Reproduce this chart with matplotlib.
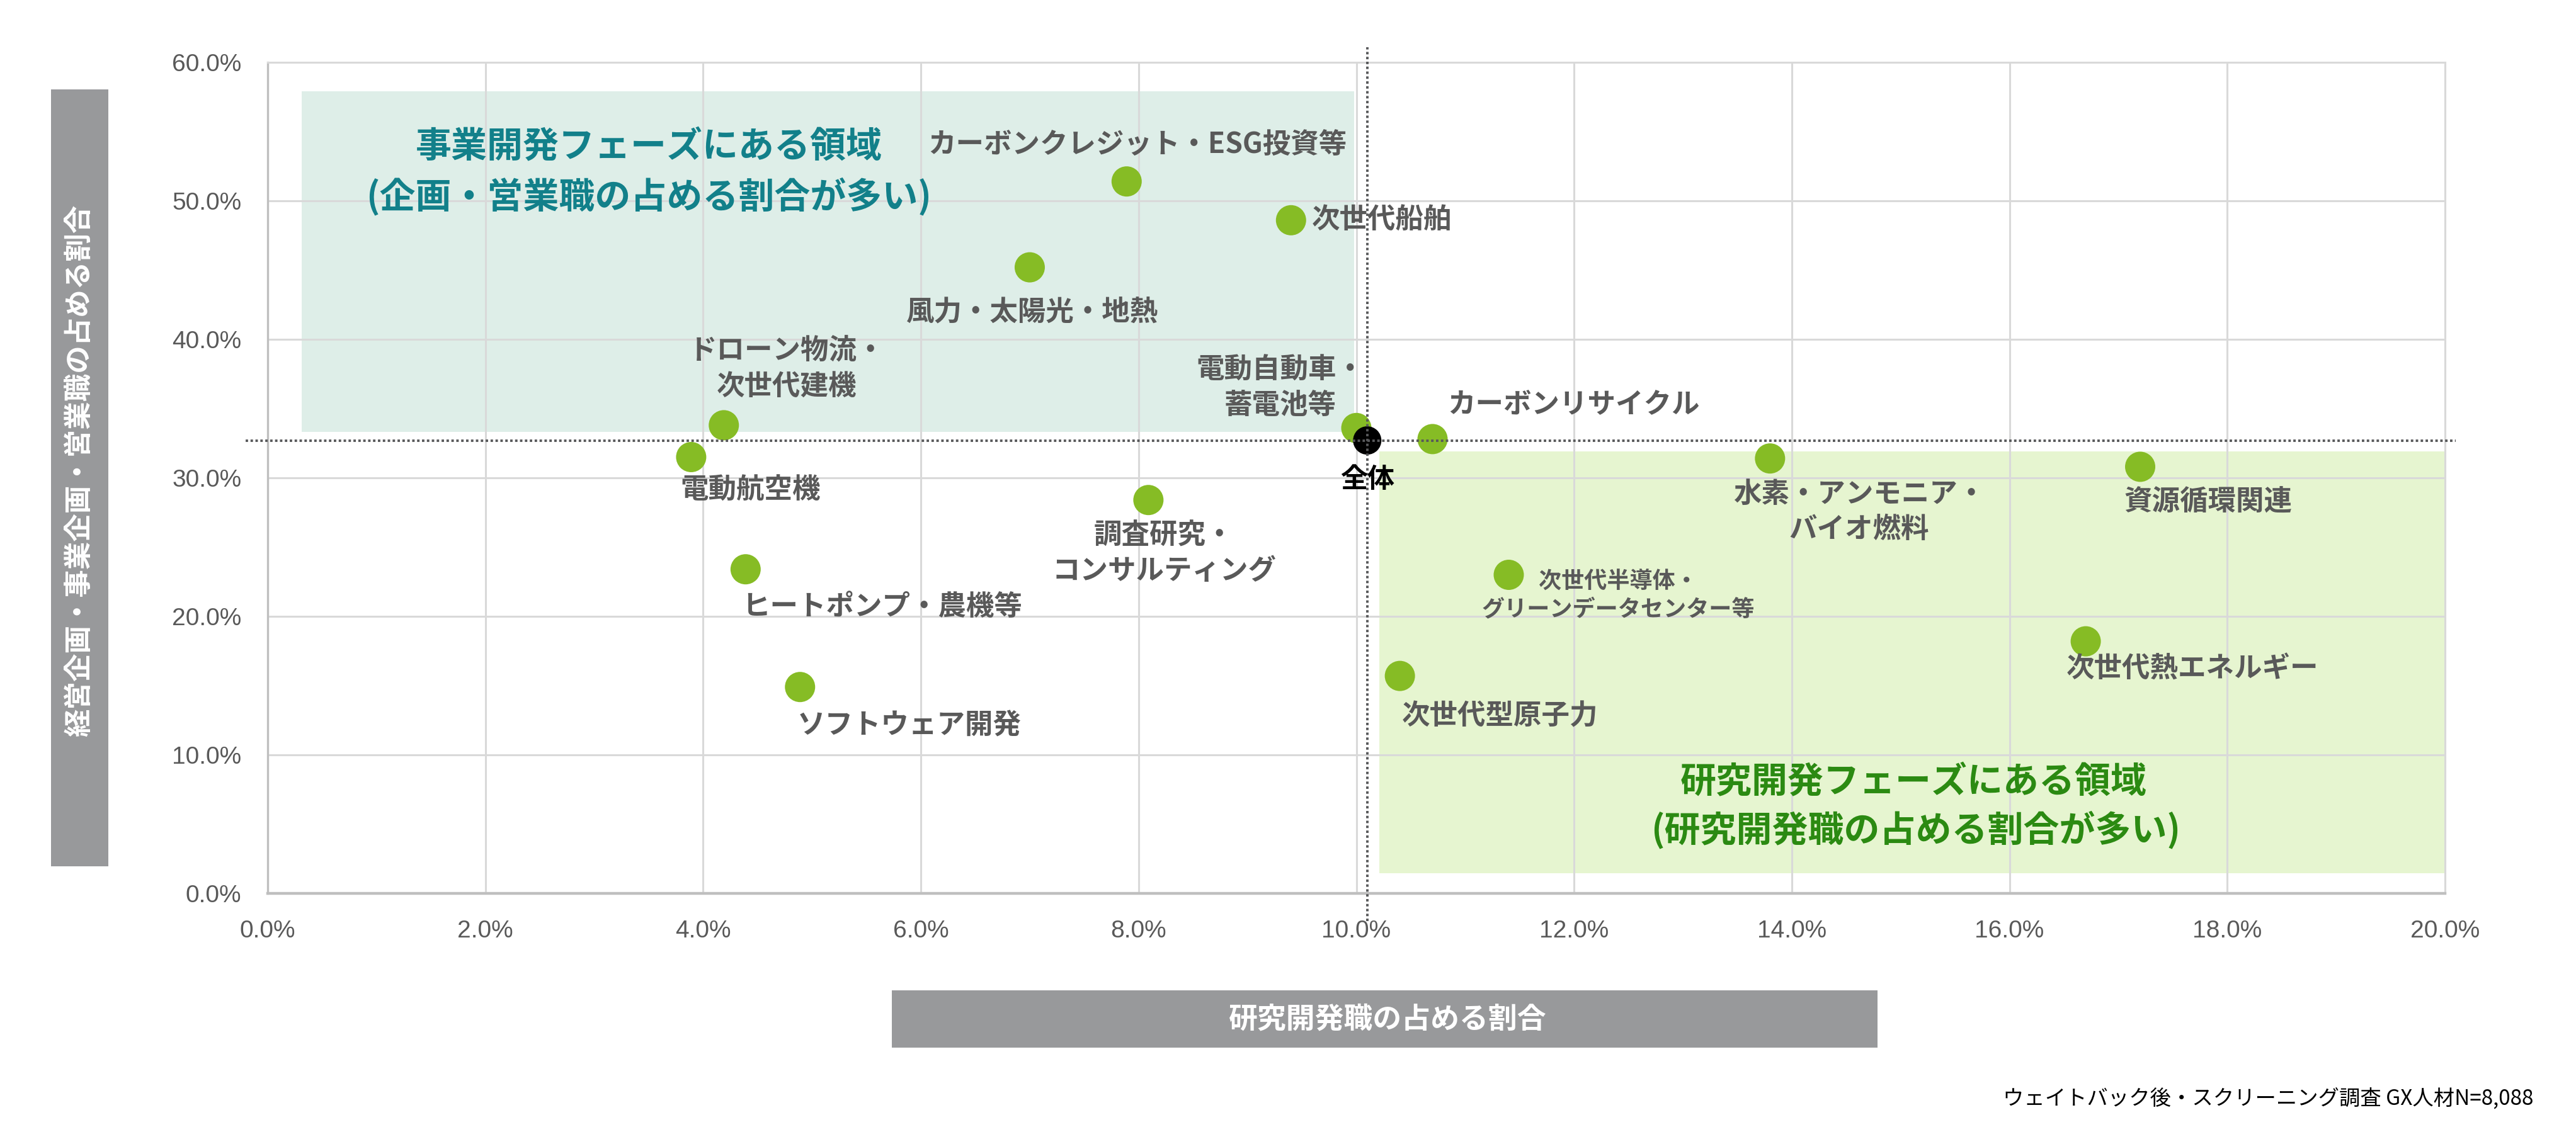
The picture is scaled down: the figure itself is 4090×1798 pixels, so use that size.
import matplotlib
matplotlib.use("Agg")
import matplotlib.pyplot as plt
from matplotlib.patches import Rectangle
from matplotlib.ticker import FuncFormatter, MultipleLocator

plt.rcParams['font.family'] = ['Noto Sans CJK JP', 'DejaVu Sans']

# ---- data (percent) ----
categories = [
    "カーボンクレジット・ESG投資等", "次世代船舶", "風力・太陽光・地熱",
    "ドローン物流・\n次世代建機", "電動航空機", "電動自動車・\n蓄電池等",
    "カーボンリサイクル", "調査研究・\nコンサルティング", "ヒートポンプ・農機等",
    "ソフトウェア開発", "次世代半導体・\nグリーンデータセンター等", "次世代型原子力",
    "水素・アンモニア・\nバイオ燃料", "資源循環関連", "次世代熱エネルギー",
]
rd_share = [7.89, 9.40, 7.00, 4.19, 3.89, 10.0, 10.7, 8.09, 4.39, 4.89,
            11.4, 10.4, 13.8, 17.2, 16.7]
plan_sales_share = [51.4, 48.6, 45.2, 33.8, 31.5, 33.6, 32.8, 28.4, 23.4, 14.9,
                    23.0, 15.7, 31.4, 30.8, 18.2]
overall_label = "全体"
overall_rd = 10.1
overall_plan = 32.7

x_ticks = [0, 2, 4, 6, 8, 10, 12, 14, 16, 18, 20]
y_ticks = [0, 10, 20, 30, 40, 50, 60]

# label placement (offset in points, horizontal alignment, font size)
label_style = [
    ((12, 41), 'center', 32), ((24, 0), 'left', 32), ((3, -51), 'center', 32),
    ((72, 65), 'center', 32), ((-12, -38), 'left', 32), ((9, 46), 'right', 32),
    ((17, 39), 'left', 32), ((18, -61), 'center', 32), ((-4, -43), 'left', 32),
    ((-3, -44), 'left', 32), ((125, -24), 'center', 26), ((2, -46), 'left', 32),
    ((102, -61), 'center', 32), ((78, -40), 'center', 32), ((-22, -31), 'left', 32),
]

W, H = 4090, 1798
fig = plt.figure(figsize=(W / 100, H / 100), dpi=100)
fig.patch.set_facecolor('white')
L, R, B, T = 425, 3882, 1419, 99
ax = fig.add_axes([L / W, 1 - B / H, (R - L) / W, (B - T) / H])

ax.set_xlim(0, 20)
ax.set_ylim(0, 60)
ax.xaxis.set_major_locator(MultipleLocator(2))
ax.yaxis.set_major_locator(MultipleLocator(10))
ax.set_xticks(x_ticks)
ax.set_yticks(y_ticks)
fmt = FuncFormatter(lambda v, p: f"{v:.1f}%")
ax.xaxis.set_major_formatter(fmt)
ax.yaxis.set_major_formatter(fmt)
ax.tick_params(length=0, labelsize=28, labelcolor='#595959', pad=30)
for lab in ax.get_xticklabels() + ax.get_yticklabels():
    lab.set_fontfamily(['Liberation Sans', 'DejaVu Sans'])

ax.grid(True, color='#d9d9d9', linewidth=2.2)
ax.set_axisbelow(True)
for s in ['top', 'right']:
    ax.spines[s].set_color('#d9d9d9')
    ax.spines[s].set_linewidth(2.2)
ax.spines['left'].set_color('#bfbfbf')
ax.spines['left'].set_linewidth(2.4)
ax.spines['bottom'].set_color('#bfbfbf')
ax.spines['bottom'].set_linewidth(3.2)

# shaded regions
ax.add_patch(Rectangle((0.31, 33.3), 9.98 - 0.31, 57.9 - 33.3,
                       facecolor='#deeee8', edgecolor='none', zorder=0.2))
ax.add_patch(Rectangle((10.21, 1.45), 20 - 10.21, 31.9 - 1.45,
                       facecolor='#e6f5d0', edgecolor='none', zorder=0.2))

# region titles
teal = '#12808a'
green = '#2b8a12'
ax.text(3.5, 53.9, "事業開発フェーズにある領域", color=teal, fontsize=41,
        fontweight='bold', ha='center', va='center', zorder=3)
ax.text(3.5, 50.3, "(企画・営業職の占める割合が多い)", color=teal, fontsize=41,
        fontweight='bold', ha='center', va='center', zorder=3)
ax.text(15.12, 8.05, "研究開発フェーズにある領域", color=green, fontsize=41,
        fontweight='bold', ha='center', va='center', zorder=3)
ax.text(15.14, 4.6, "(研究開発職の占める割合が多い)", color=green, fontsize=41,
        fontweight='bold', ha='center', va='center', zorder=3)

# points
ax.scatter(rd_share, plan_sales_share, s=1194, color='#86bc25',
           edgecolors='none', zorder=4)
ax.scatter([overall_rd], [overall_plan], s=1050, color='black',
           edgecolors='none', zorder=5)

# reference dotted lines
ax.plot([-0.2, 20.1], [overall_plan, overall_plan], color='#58595b',
        linewidth=2.8, dashes=(1, 1), clip_on=False, zorder=6)
ax.plot([overall_rd, overall_rd], [-2.0, 61.1], color='#58595b',
        linewidth=2.8, dashes=(1, 1), clip_on=False, zorder=6)

# labels
for name, x, y, (off, ha, fs) in zip(categories, rd_share, plan_sales_share, label_style):
    ax.annotate(name, (x, y), xytext=off, textcoords='offset points',
                ha=ha, va='center', multialignment='center', fontsize=fs,
                fontweight='bold', color='#595959', linespacing=1.3, zorder=7)
ax.annotate(overall_label, (overall_rd, overall_plan), xytext=(0, -44),
            textcoords='offset points', ha='center', va='center',
            fontsize=31, fontweight='bold', color='black', zorder=7)

# axis title boxes
fig.add_artist(Rectangle((81 / W, 1 - 1376 / H), (172 - 81) / W, (1376 - 142) / H,
                         transform=fig.transFigure, facecolor='#98999b',
                         edgecolor='none'))
fig.text(126.5 / W, 1 - 747 / H, "経営企画・事業企画・営業職の占める割合",
         rotation=90, color='white', fontsize=32, fontweight='bold',
         ha='center', va='center')
fig.add_artist(Rectangle((1416 / W, 1 - 1664 / H), (2981 - 1416) / W, (1664 - 1573) / H,
                         transform=fig.transFigure, facecolor='#98999b',
                         edgecolor='none'))
fig.text(2203 / W, 1 - 1619 / H, "研究開発職の占める割合", color='white',
         fontsize=33, fontweight='bold', ha='center', va='center')

fig.text(4022 / W, 1 - 1745 / H, "ウェイトバック後・スクリーニング調査 GX人材N=8,088",
         color='black', fontsize=24, ha='right', va='center')

fig.savefig("out.png", dpi=100, facecolor='white')
